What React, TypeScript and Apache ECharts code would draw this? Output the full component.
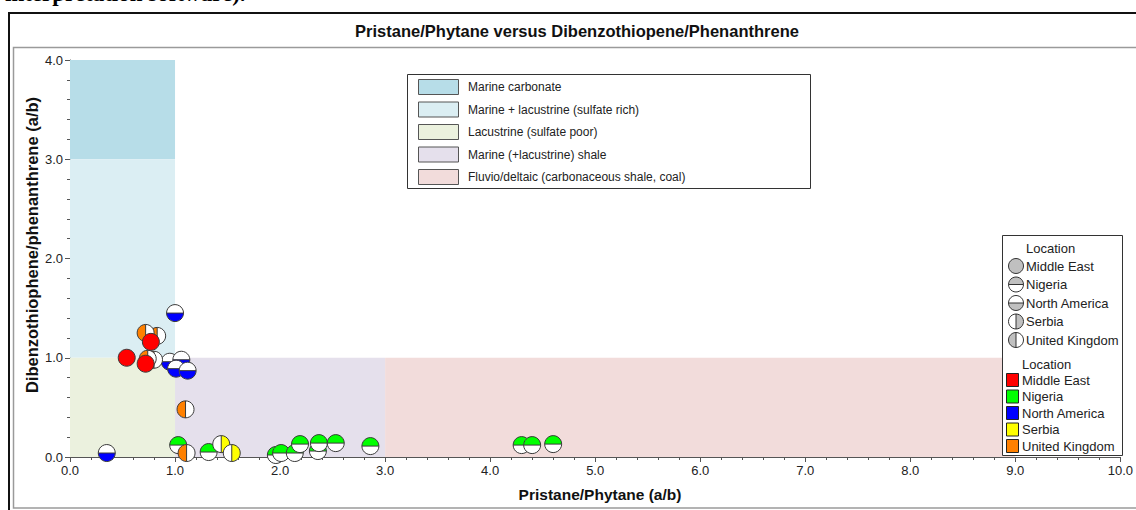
import React, { useEffect, useRef } from "react";
import * as echarts from "echarts";

// Source-rock fields (Pr/Ph range on x, DBT/Phen range on y)
const fieldNames = [
  "Marine carbonate",
  "Marine + lacustrine (sulfate rich)",
  "Lacustrine (sulfate poor)",
  "Marine (+lacustrine) shale",
  "Fluvio/deltaic (carbonaceous shale, coal)",
];
const fieldPrPh: [number, number][] = [[0, 1], [0, 1], [0, 1], [1, 3], [3, 9]];
const fieldDbtPhen: [number, number][] = [[3, 4], [1, 3], [0, 1], [0, 1], [0, 1]];
const fieldColors = ["#b7dde8", "#dbeef3", "#ebf1de", "#e5e0ec", "#f2dcdb"];

// Samples by location: [Pristane/Phytane, Dibenzothiophene/Phenanthrene]
const locationNames = ["Middle East", "Nigeria", "North America", "Serbia", "United Kingdom"];
const middleEast: [number, number][] = [[0.54, 1.0], [0.72, 0.94], [0.77, 1.16]];
const nigeria: [number, number][] = [
  [1.03, 0.12], [1.32, 0.05], [1.96, 0.02], [2.01, 0.04], [2.14, 0.04], [2.19, 0.13],
  [2.36, 0.06], [2.37, 0.14], [2.53, 0.14], [2.86, 0.11], [4.3, 0.12], [4.4, 0.12], [4.6, 0.13],
];
const northAmerica: [number, number][] = [
  [1.0, 1.45], [0.95, 0.96], [1.06, 0.98], [1.01, 0.89], [1.12, 0.87], [0.35, 0.04],
];
const serbia: [number, number][] = [[1.44, 0.13], [1.54, 0.04]];
const unitedKingdom: [number, number][] = [
  [0.83, 1.22], [0.72, 1.25], [0.8, 0.98], [0.74, 0.99], [1.1, 0.48], [1.11, 0.04],
];

const locationColors = ["#ff0000", "#00ff00", "#0000ff", "#ffff00", "#ff8000"];
// which half of the marker carries the colour
const locationHalves = ["full", "top", "bottom", "right", "left"];

const FONT = "Arial, 'Liberation Sans', sans-serif";

function halfAngles(half: string): [number, number] {
  if (half === "top") return [Math.PI, 2 * Math.PI];
  if (half === "bottom") return [0, Math.PI];
  if (half === "left") return [Math.PI / 2, (3 * Math.PI) / 2];
  return [-Math.PI / 2, Math.PI / 2];
}

function markerShapes(
  cx: number, cy: number, r: number, half: string, color: string, stroke: string, z?: number
) {
  const parts: any[] = [];
  const zp = z === undefined ? {} : { z };
  if (half === "full") {
    parts.push({ type: "circle", ...zp, shape: { cx, cy, r }, style: { fill: color, stroke, lineWidth: 1 } });
    return parts;
  }
  const [a0, a1] = halfAngles(half);
  parts.push({ type: "circle", ...zp, shape: { cx, cy, r }, style: { fill: "#ffffff" } });
  parts.push({
    type: "sector",
    ...zp,
    shape: { cx, cy, r0: 0, r, startAngle: a0, endAngle: a1, clockwise: true },
    style: { fill: color },
  });
  const horiz = half === "top" || half === "bottom";
  parts.push({
    type: "line",
    ...zp,
    shape: horiz
      ? { x1: cx - r, y1: cy, x2: cx + r, y2: cy }
      : { x1: cx, y1: cy - r, x2: cx, y2: cy + r },
    style: { stroke, lineWidth: 1 },
  });
  parts.push({ type: "circle", ...zp, shape: { cx, cy, r }, style: { fill: "none", stroke, lineWidth: 1 } });
  return parts;
}

function markerSeries(name: string, data: [number, number][], half: string, color: string) {
  return {
    type: "custom",
    name,
    coordinateSystem: "cartesian2d",
    data,
    z: 5,
    silent: true,
    renderItem: (_params: any, api: any) => {
      const [cx, cy] = api.coord([api.value(0), api.value(1)]);
      return { type: "group", children: markerShapes(cx, cy, 8.5, half, color, "#3a3a3a") };
    },
  };
}

export default function App() {
  const ref = useRef<HTMLDivElement>(null);

  useEffect(() => {
    if (!ref.current) return;
    const chart = echarts.init(ref.current, null, { renderer: "svg" });

    const fieldData = fieldNames.map((_, i) => [
      fieldPrPh[i][0], fieldPrPh[i][1], fieldDbtPhen[i][0], fieldDbtPhen[i][1], i,
    ]);

    const seriesOrder = [1, 2, 3, 4, 0];
    const locData = [middleEast, nigeria, northAmerica, serbia, unitedKingdom];

    const graphics: any[] = [];

    // cropped caption line above the figure
    graphics.push({
      type: "text",
      x: 5,
      y: 5,
      style: {
        text: "interpretation software).",
        fontFamily: "'Times New Roman', 'Liberation Serif', serif",
        fontWeight: "bold",
        fontSize: 23,
        fill: "#000",
        align: "left",
        verticalAlign: "bottom",
      },
      z: 10,
    });
    graphics.push({
      type: "rect",
      shape: { x: 9, y: 13, width: 1140, height: 520 },
      style: { fill: "none", stroke: "#111", lineWidth: 2 },
      silent: true,
    });
    graphics.push({
      type: "rect",
      shape: { x: 13.5, y: 47.5, width: 1140, height: 460.5 },
      style: { fill: "none", stroke: "#9a9a9a", lineWidth: 1.5 },
      silent: true,
    });

    // title
    graphics.push({
      type: "text",
      x: 577,
      y: 31,
      style: {
        text: "Pristane/Phytane versus Dibenzothiopene/Phenanthrene",
        fontFamily: FONT,
        fontWeight: "bold",
        fontSize: 16.5,
        fill: "#111",
        align: "center",
        verticalAlign: "middle",
      },
    });

    // axis names
    graphics.push({
      type: "text",
      x: 600,
      y: 494,
      style: {
        text: "Pristane/Phytane (a/b)",
        fontFamily: FONT,
        fontWeight: "bold",
        fontSize: 15.5,
        fill: "#111",
        align: "center",
        verticalAlign: "middle",
      },
    });
    graphics.push({
      type: "text",
      x: 32,
      y: 245,
      rotation: Math.PI / 2,
      style: {
        text: "Dibenzothiophene/phenanthrene (a/b)",
        fontFamily: FONT,
        fontWeight: "bold",
        fontSize: 16.5,
        fill: "#111",
        align: "center",
        verticalAlign: "middle",
      },
    });

    // field legend
    graphics.push({
      type: "rect",
      z: 20,
      shape: { x: 407.5, y: 74.5, width: 403, height: 114 },
      style: { fill: "#ffffff", stroke: "#333", lineWidth: 1 },
    });
    fieldNames.forEach((name, i) => {
      const cy = 87 + i * 22.5;
      graphics.push({
        type: "rect",
        z: 21,
        shape: { x: 418.5, y: cy - 7.5, width: 40, height: 15 },
        style: { fill: fieldColors[i], stroke: "#555", lineWidth: 1 },
      });
      graphics.push({
        type: "text",
        z: 21,
        x: 468,
        y: cy,
        style: { text: name, fontFamily: FONT, fontSize: 12, fill: "#222", align: "left", verticalAlign: "middle" },
      });
    });

    // location legend
    graphics.push({
      type: "rect",
      z: 20,
      shape: { x: 1002.5, y: 235.5, width: 120, height: 220 },
      style: { fill: "#ffffff", stroke: "#333", lineWidth: 1 },
    });
    graphics.push({
      type: "text",
      z: 21,
      x: 1026,
      y: 248,
      style: { text: "Location", fontFamily: FONT, fontSize: 13, fill: "#222", align: "left", verticalAlign: "middle" },
    });
    locationNames.forEach((name, i) => {
      const cy = 266 + i * 18.5;
      markerShapes(1016, cy, 7.5, locationHalves[i], "#c0c0c0", "#333", 22).forEach((el) =>
        graphics.push(el)
      );
      graphics.push({
        type: "text",
        z: 21,
        x: 1026,
        y: cy,
        style: { text: name, fontFamily: FONT, fontSize: 13, fill: "#222", align: "left", verticalAlign: "middle" },
      });
    });
    graphics.push({
      type: "text",
      z: 21,
      x: 1022,
      y: 364,
      style: { text: "Location", fontFamily: FONT, fontSize: 13, fill: "#222", align: "left", verticalAlign: "middle" },
    });
    locationNames.forEach((name, i) => {
      const cy = 380 + i * 16.5;
      graphics.push({
        type: "rect",
        z: 21,
        shape: { x: 1006.5, y: cy - 6.5, width: 12, height: 13 },
        style: { fill: locationColors[i], stroke: "#222", lineWidth: 1 },
      });
      graphics.push({
        type: "text",
        z: 21,
        x: 1022,
        y: cy,
        style: { text: name, fontFamily: FONT, fontSize: 13, fill: "#222", align: "left", verticalAlign: "middle" },
      });
    });

    const axisCommon = {
      type: "value" as const,
      interval: 1,
      splitLine: { show: false },
      axisLine: { show: true, lineStyle: { color: "#555", width: 1 } },
      axisTick: { show: true, inside: false, length: 5, lineStyle: { color: "#555" } },
      minorTick: { show: true, splitNumber: 5, length: 3, lineStyle: { color: "#555" } },
      axisLabel: {
        formatter: (v: number) => v.toFixed(1),
        fontFamily: FONT,
        fontSize: 13,
        color: "#222",
        margin: 7,
      },
    };

    chart.setOption({
      animation: false,
      grid: { left: 70, right: 13, top: 60, bottom: 53 },
      xAxis: { ...axisCommon, min: 0, max: 10 },
      yAxis: { ...axisCommon, min: 0, max: 4 },
      graphic: graphics,
      series: [
        {
          type: "custom",
          name: "fields",
          coordinateSystem: "cartesian2d",
          data: fieldData,
          z: 1,
          silent: true,
          renderItem: (_params: any, api: any) => {
            const p0 = api.coord([api.value(0), api.value(3)]);
            const p1 = api.coord([api.value(1), api.value(2)]);
            return {
              type: "rect",
              shape: { x: p0[0], y: p0[1], width: p1[0] - p0[0], height: p1[1] - p0[1] },
              style: { fill: fieldColors[api.value(4)] },
            };
          },
        },
        ...seriesOrder.map((i) =>
          markerSeries(locationNames[i], locData[i], locationHalves[i], locationColors[i])
        ),
      ],
    });

    return () => chart.dispose();
  }, []);

  return (
    <div
      ref={ref}
      style={{ position: "absolute", left: 0, top: 0, width: 1136, height: 510, background: "#fff" }}
    />
  );
}
